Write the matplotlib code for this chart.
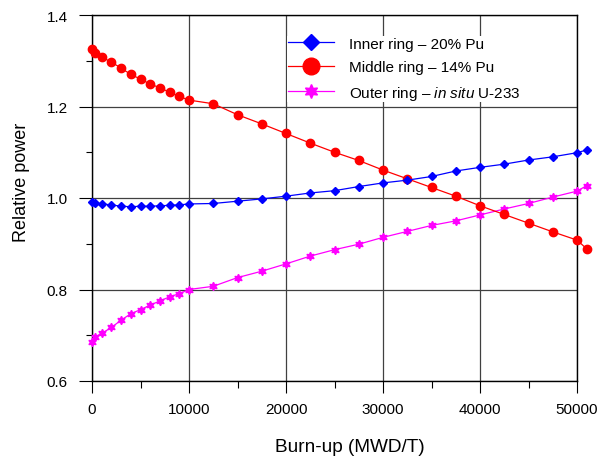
import matplotlib
matplotlib.use("Agg")
import matplotlib.pyplot as plt
from matplotlib.lines import Line2D
from matplotlib.ticker import MultipleLocator, FixedLocator

plt.rcParams['font.family'] = ['Liberation Sans', 'DejaVu Sans']
plt.rcParams['mathtext.fontset'] = 'custom'
plt.rcParams['mathtext.rm'] = 'Liberation Sans'
plt.rcParams['mathtext.it'] = 'Liberation Sans:italic'

burnup = [0, 300, 1000, 2000, 3000, 4000, 5000, 6000, 7000, 8000, 9000, 10000,
          12500, 15000, 17500, 20000, 22500, 25000, 27500, 30000, 32500, 35000,
          37500, 40000, 42500, 45000, 47500, 50000, 51000]

inner = [0.992, 0.989, 0.987, 0.985, 0.982, 0.981, 0.982, 0.982, 0.983, 0.984,
         0.985, 0.987, 0.988, 0.993, 0.998, 1.004, 1.011, 1.016, 1.025, 1.033,
         1.039, 1.047, 1.059, 1.067, 1.074, 1.083, 1.090, 1.099, 1.105]

middle = [1.326, 1.318, 1.308, 1.297, 1.284, 1.270, 1.260, 1.249, 1.241, 1.231,
          1.222, 1.214, 1.206, 1.182, 1.162, 1.141, 1.120, 1.100, 1.082, 1.061,
          1.042, 1.023, 1.004, 0.983, 0.964, 0.945, 0.926, 0.908, 0.889]

outer = [0.685, 0.696, 0.704, 0.717, 0.733, 0.747, 0.756, 0.766, 0.775, 0.784,
         0.791, 0.800, 0.807, 0.826, 0.840, 0.856, 0.873, 0.887, 0.899, 0.914,
         0.927, 0.940, 0.950, 0.963, 0.976, 0.988, 1.002, 1.015, 1.027]

labels = ["Inner ring – 20% Pu", "Middle ring – 14% Pu",
          "Outer ring – $\\mathit{in\\ situ}$ U-233"]
x_ticks = [0, 10000, 20000, 30000, 40000, 50000]
y_ticks = [0.6, 0.8, 1.0, 1.2, 1.4]

fig = plt.figure(figsize=(5.98, 4.60), dpi=100)
ax = fig.add_axes([92/598, 1-382/460, (577-92)/598, (382-16)/460])

star = (6, 1, 0)
ax.plot(burnup, outer, color='#FF00FF', lw=0.9, marker=star, ms=6, mec='#FF00FF', mfc='#FF00FF', clip_on=False, zorder=3)
ax.plot(burnup, middle, color='#FF0000', lw=0.9, marker='o', ms=6, mec='#FF0000', mfc='#FF0000', clip_on=False, zorder=3)
ax.plot(burnup, inner, color='#0000FF', lw=0.9, marker='D', ms=4, mec='#0000FF', mfc='#0000FF', clip_on=False, zorder=4)

ax.set_xlim(0, 50000)
ax.set_ylim(0.6, 1.4)
ax.xaxis.set_major_locator(FixedLocator(x_ticks))
ax.xaxis.set_minor_locator(MultipleLocator(5000))
ax.yaxis.set_major_locator(FixedLocator(y_ticks))
ax.yaxis.set_minor_locator(MultipleLocator(0.1))
ax.set_xticklabels([str(v) for v in x_ticks])
ax.set_yticklabels(["%.1f" % v for v in y_ticks])

ax.tick_params(axis='x', which='major', direction='out', length=8.3, width=0.8, pad=6.8, labelsize=11)
ax.tick_params(axis='x', which='minor', direction='out', length=5, width=0.8)
ax.tick_params(axis='y', which='major', direction='out', length=9.1, width=0.8, pad=8.5, labelsize=11)
ax.tick_params(axis='y', which='minor', direction='out', length=4.5, width=0.8)

ax.grid(True, which='major', color='#404040', lw=0.9, zorder=0)
ax.set_axisbelow(True)
for s in ax.spines.values():
    s.set_linewidth(1.0)
    s.set_color('black')

ax.set_xlabel("Burn-up (MWD/T)", fontsize=13.7)
ax.xaxis.label.set_va('center')
ax.xaxis.set_label_coords((349.5-92)/485, (382-448)/366)
ax.set_ylabel("Relative power", fontsize=13)
ax.yaxis.label.set_va('center')
ax.yaxis.set_label_coords((22-92)/485, (382-182.5)/366)

handles = [
    Line2D([], [], color='#0000FF', lw=0.9, marker='D', ms=8, mfc='#0000FF', mec='#0000FF'),
    Line2D([], [], color='#FF0000', lw=0.9, marker='o', ms=12, mfc='#FF0000', mec='#FF0000'),
    Line2D([], [], color='#FF00FF', lw=0.9, marker=star, ms=10, mfc='#FF00FF', mec='#FF00FF'),
]
leg = ax.legend(handles, labels, loc='upper left', bbox_to_anchor=(287/598, 1-37/460),
                bbox_transform=fig.transFigure, borderaxespad=0, borderpad=0.05,
                handlelength=3.0, handletextpad=1.0, labelspacing=0.62, fontsize=11,
                frameon=True, fancybox=False, framealpha=1, facecolor='white',
                edgecolor='none')
leg.set_zorder(5)

fig.savefig("out.png", dpi=100)
